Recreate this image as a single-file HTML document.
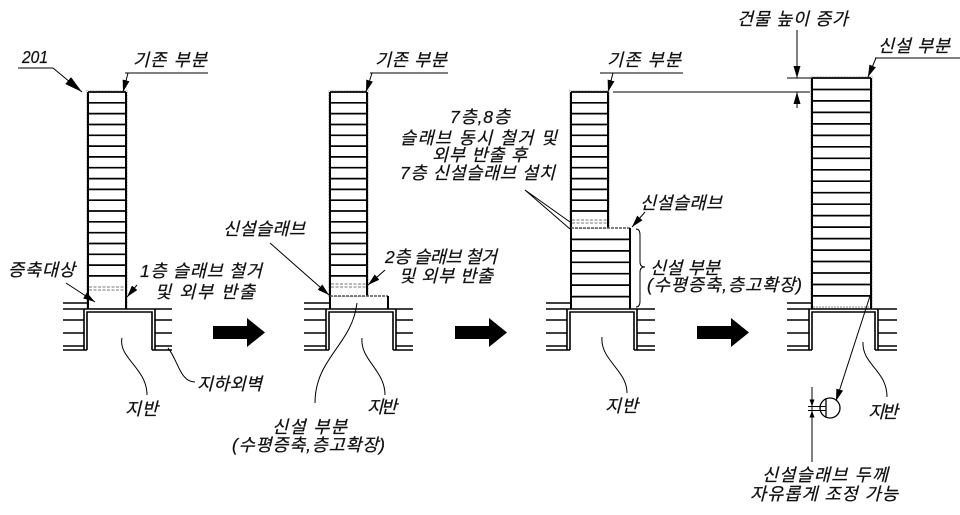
<!DOCTYPE html>
<html><head><meta charset="utf-8"><style>
html,body{margin:0;padding:0;background:#fff;}
svg{display:block;}
text{font-family:"Liberation Sans","Noto Sans CJK KR",sans-serif;font-style:italic;font-size:17.5px;fill:#111;stroke:#111;stroke-width:0.25px;}
</style></head><body>
<svg width="960" height="515" viewBox="0 0 960 515" xmlns="http://www.w3.org/2000/svg">
<defs>
<marker id="ah" markerWidth="12" markerHeight="7" refX="12" refY="3.5" orient="auto" markerUnits="userSpaceOnUse"><path d="M0,0 L12,3.5 L0,7 z" fill="#000"/></marker>
<marker id="ahb" markerWidth="18" markerHeight="9" refX="18" refY="4.5" orient="auto" markerUnits="userSpaceOnUse"><path d="M0,0 L18,4.5 L0,9 z" fill="#000"/></marker>
<marker id="ahs" markerWidth="7" markerHeight="5" refX="7" refY="2.5" orient="auto" markerUnits="userSpaceOnUse"><path d="M0,0 L7,2.5 L0,5 z" fill="#000"/></marker>
</defs>

<g fill="none" stroke="#000">
<!-- ===== Building 1 ===== -->
<rect x="86.5" y="90.5" width="41" height="218" stroke="#c8c8c8" stroke-width="1" stroke-dasharray="2,1"/>
<path d="M88,92V309M126,92V309" stroke-width="2"/>
<path d="M88,92H126M88,102.8H126M88,113.6H126M88,124.5H126M88,135.3H126M88,146.1H126M88,156.9H126M88,167.7H126M88,178.6H126M88,189.4H126M88,200.2H126M88,211H126M88,221.8H126M88,232.7H126M88,243.5H126M88,254.3H126M88,265.1H126M88,275.9H126" stroke-width="1.7"/>
<path d="M89,287H125M89,290H125" stroke="#777" stroke-width="1" stroke-dasharray="3,1.5"/>
<!-- basement 1 -->
<path d="M63,309H172M63,303H88" stroke-width="1.6"/>
<path d="M84,309V350M155,309V350" stroke-width="1.6"/>
<path d="M87,350V312H152V350" stroke-width="1.6"/>
<path d="M63,320H84M63,333H84M63,346H84M63,350H87M155,320H172M155,333H172M155,346H172M152,350H172" stroke-width="1.6"/>

<!-- ===== Building 2 ===== -->
<rect x="328.5" y="90.5" width="40" height="206" stroke="#c8c8c8" stroke-width="1" stroke-dasharray="2,1"/>
<path d="M330,92V309M367,92V296" stroke-width="2"/>
<path d="M330,92H367M330,102.8H367M330,113.6H367M330,124.5H367M330,135.3H367M330,146.1H367M330,156.9H367M330,167.7H367M330,178.6H367M330,189.4H367M330,200.2H367M330,211H367M330,221.8H367M330,232.7H367M330,243.5H367M330,254.3H367M330,265.1H367M330,275.9H367" stroke-width="1.7"/>
<path d="M331,284H366M331,287H366" stroke="#777" stroke-width="1" stroke-dasharray="3,1.5"/>
<path d="M330,296H388" stroke="#555" stroke-width="1.6" stroke-dasharray="3,1"/>
<path d="M388,296V309" stroke-width="2"/>
<!-- basement 2 -->
<path d="M304,309H413M304,303H330" stroke-width="1.6"/>
<path d="M326,309V350M396,309V350" stroke-width="1.6"/>
<path d="M329,350V312H393V350" stroke-width="1.6"/>
<path d="M304,320H326M304,333H326M304,346H326M304,350H329M396,320H413M396,333H413M396,346H413M393,350H413" stroke-width="1.6"/>

<!-- ===== Building 3 ===== -->
<rect x="569.5" y="90.5" width="40" height="138" stroke="#c8c8c8" stroke-width="1" stroke-dasharray="2,1"/>
<path d="M571,92V309M608,92V228" stroke-width="2"/>
<path d="M571,92H608M571,102.8H608M571,113.6H608M571,124.5H608M571,135.3H608M571,146.1H608M571,156.9H608M571,167.7H608M571,178.6H608M571,189.4H608M571,200.2H608M571,211H608" stroke-width="1.7"/>
<path d="M572,220H607M572,223H607" stroke="#777" stroke-width="1" stroke-dasharray="3,1.5"/>
<path d="M571,228H630" stroke="#555" stroke-width="1.6" stroke-dasharray="3,1"/>
<path d="M630,228V309" stroke-width="2"/>
<path d="M571,239.4H630M571,250.9H630M571,262.3H630M571,273.7H630M571,285.1H630M571,296.6H630" stroke-width="1.7"/>
<!-- basement 3 -->
<path d="M546,309H655M546,303H571" stroke-width="1.6"/>
<path d="M567,309V350M637,309V350" stroke-width="1.6"/>
<path d="M570,350V312H634V350" stroke-width="1.6"/>
<path d="M546,320H567M546,333H567M546,346H567M546,350H570M637,320H655M637,333H655M637,346H655M634,350H655" stroke-width="1.6"/>
<!-- brace -->
<path d="M636,229 Q640,229 640,235 L640,262 Q640,267 645,267 Q640,267 640,272 L640,301 Q640,307 636,307" stroke-width="1"/>

<!-- ===== Building 4 ===== -->
<rect x="810.5" y="76.5" width="62" height="232" stroke="#c8c8c8" stroke-width="1" stroke-dasharray="2,1"/>
<path d="M812,78V309M871,78V309" stroke-width="2"/>
<path d="M812,78H871M812,89.5H871M812,100.9H871M812,112.4H871M812,123.9H871M812,135.4H871M812,146.8H871M812,158.3H871M812,169.8H871M812,181.2H871M812,192.7H871M812,204.2H871M812,215.6H871M812,227.1H871M812,238.6H871M812,250.1H871M812,261.5H871M812,273H871M812,284.5H871M812,295.9H871" stroke-width="1.7"/>
<path d="M813,307H870" stroke="#888" stroke-width="1" stroke-dasharray="2,1"/>
<!-- basement 4 -->
<path d="M787,309H897M787,303H812" stroke-width="1.6"/>
<path d="M809,309V350M878,309V350" stroke-width="1.6"/>
<path d="M812,350V312H875V350" stroke-width="1.6"/>
<path d="M787,320H809M787,333H809M787,346H809M787,350H812M878,320H897M878,333H897M878,346H897M875,350H897" stroke-width="1.6"/>

<!-- ===== Leaders ===== -->
<path d="M18,68H53" stroke-width="1"/>
<path d="M53,68L82,92" stroke-width="1" marker-end="url(#ahb)"/>
<path d="M125,73H208" stroke-width="1"/>
<path d="M128,73L123,92" stroke-width="1" marker-end="url(#ah)"/>
<path d="M370,73H448" stroke-width="1"/>
<path d="M372,73L366,92" stroke-width="1" marker-end="url(#ah)"/>
<path d="M600,73H683" stroke-width="1"/>
<path d="M613,73L608,92" stroke-width="1" marker-end="url(#ah)"/>
<path d="M875,58H960" stroke-width="1"/>
<path d="M876,58L868,77" stroke-width="1" marker-end="url(#ah)"/>
<!-- height dimension -->
<path d="M613,92H810M787,78H812" stroke-width="1"/>
<path d="M797,30V78" stroke-width="1" marker-end="url(#ah)"/>
<path d="M797,108V92" stroke-width="1" marker-end="url(#ah)"/>

<path d="M66,283L95,302" stroke-width="1" marker-end="url(#ah)"/>
<path d="M137,285L127,297" stroke-width="1" marker-end="url(#ah)"/>
<path d="M270,243L329,295" stroke-width="1" marker-end="url(#ah)"/>
<path d="M385,270L368,285" stroke-width="1" marker-end="url(#ah)"/>
<path d="M525,190L570,222M525,190L570,229" stroke-width="1"/>
<path d="M645,212L632,227" stroke-width="1" marker-end="url(#ah)"/>
<path d="M870,296L836,401" stroke-width="1" marker-end="url(#ah)"/>

<!-- wavy leaders -->
<path d="M122,338 C118,358 147,368 147,395" stroke-width="1"/>
<path d="M168,348 C178,360 180,382 195,382" stroke-width="1"/>
<path d="M357,303 C352,345 315,358 315,403" stroke-width="1"/>
<path d="M362,338 C360,360 385,370 385,395" stroke-width="1"/>
<path d="M602,337 C600,360 627,370 627,393" stroke-width="1"/>
<path d="M863,342 C862,365 887,370 887,397" stroke-width="1"/>

<!-- detail symbol -->
<circle cx="830" cy="408" r="10" stroke-width="1.3"/>
<path d="M826,398.8V417.2" stroke-width="1.3"/>
<path d="M808,406.5H826M808,410.5H826" stroke-width="1"/>
<path d="M812,387V462" stroke-width="1"/>
<path d="M812,396V406.5" stroke-width="1" marker-end="url(#ahs)"/>
<path d="M812,421V410.5" stroke-width="1" marker-end="url(#ahs)"/>
</g>

<!-- big arrows -->
<g fill="#000">
<polygon points="213,326 247,326 247,318 265,332.5 247,347 247,339 213,339"/>
<polygon points="455,326 489,326 489,318 507,332.5 489,347 489,339 455,339"/>
<polygon points="697,326 731,326 731,318 749,332.5 731,347 731,339 697,339"/>
</g>

<!-- texts -->
<text x="22" y="63" font-size="16" textLength="26" lengthAdjust="spacingAndGlyphs">201</text>
<text x="133" y="66" textLength="74">기존 부분</text>
<text x="375" y="66" textLength="72">기존 부분</text>
<text x="607" y="66" textLength="74">기존 부분</text>
<text x="737" y="25" textLength="111">건물 높이 증가</text>
<text x="878" y="52" textLength="72">신설 부분</text>
<text x="450" y="123" textLength="60">7층,8층</text>
<text x="400" y="144" textLength="157">슬래브 동시 철거 및</text>
<text x="432" y="161" textLength="95">외부 반출 후</text>
<text x="400" y="179" textLength="155">7층 신설슬래브 설치</text>
<text x="223" y="235" textLength="82">신설슬래브</text>
<text x="385" y="263" textLength="112">2층 슬래브 철거</text>
<text x="399" y="282" textLength="94">및 외부 반출</text>
<text x="8" y="276" textLength="67">증축대상</text>
<text x="140" y="277" textLength="122">1층 슬래브 철거</text>
<text x="155" y="298" textLength="100">및 외부 반출</text>
<text x="197" y="390" textLength="65">지하외벽</text>
<text x="125" y="415" textLength="33">지반</text>
<text x="367" y="413" textLength="30">지반</text>
<text x="272" y="433" textLength="75">신설 부분</text>
<text x="232" y="451" textLength="153">(수평증축,층고확장)</text>
<text x="605" y="412" textLength="33">지반</text>
<text x="640" y="209" textLength="82">신설슬래브</text>
<text x="650" y="274" textLength="70">신설 부분</text>
<text x="647" y="291" textLength="155">(수평증축,층고확장)</text>
<text x="868" y="418" textLength="30">지반</text>
<text x="762" y="481" textLength="126">신설슬래브 두께</text>
<text x="750" y="500" textLength="148">자유롭게 조정 가능</text>
</svg>
</body></html>
